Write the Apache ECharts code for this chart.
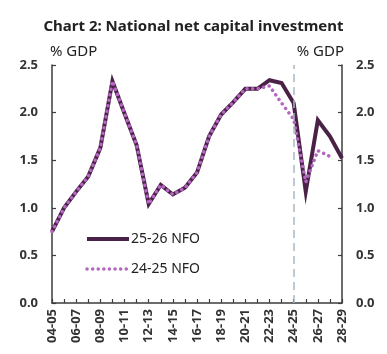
<!DOCTYPE html>
<html>
<head>
<meta charset="utf-8">
<script src="https://cdn.jsdelivr.net/npm/echarts@6/dist/echarts.min.js"></script>
<style>
  html, body { margin: 0; padding: 0; background: #fff; }
  #chart { width: 387px; height: 354px; }
</style>
</head>
<body>
<div id="chart"></div>
<script>
const years = [
  '04-05', '05-06', '06-07', '07-08', '08-09', '09-10', '10-11', '11-12', '12-13',
  '13-14', '14-15', '15-16', '16-17', '17-18', '18-19', '19-20', '20-21', '21-22',
  '22-23', '23-24', '24-25', '25-26', '26-27', '27-28', '28-29'
]
const nfo2526 = [
  0.75, 1.00, 1.17, 1.33, 1.63, 2.33, 1.99, 1.66, 1.04,
  1.24, 1.14, 1.21, 1.37, 1.75, 1.98, 2.11, 2.25, 2.25,
  2.34, 2.31, 2.10, 1.17, 1.92, 1.75, 1.52
]
const nfo2425 = [
  0.75, 1.00, 1.17, 1.33, 1.63, 2.33, 1.99, 1.66, 1.04,
  1.24, 1.14, 1.21, 1.37, 1.75, 1.98, 2.11, 2.25, 2.25,
  2.28, 2.10, 1.93, 1.27, 1.60, 1.54, null
]
const forecastStart = '24-25'
const yTicks = [0, 2.5, 0.5]

const chart = echarts.init(document.getElementById('chart'))

const axisColor = '#3d3d3d'
const textColor = '#333333'

const yAxisBase = (pos) => ({
  type: 'value',
  position: pos,
  min: yTicks[0],
  max: yTicks[1],
  interval: yTicks[2],
  name: '% GDP',
  nameLocation: 'end',
  nameGap: 6,
  nameTextStyle: {
    color: '#222',
    fontSize: 15,
    fontFamily: 'Noto Sans',
    align: pos === 'left' ? 'left' : 'right',
    padding: pos === 'left' ? [0, 0, 0, -2] : [0, -2, 0, 0]
  },
  axisLine: { show: true, lineStyle: { color: axisColor, width: 1.5 } },
  axisTick: { show: true, inside: true, length: 4, lineStyle: { color: axisColor, width: 1.2 } },
  splitLine: { show: false },
  axisLabel: {
    color: textColor,
    fontSize: 13,
    fontWeight: 'bold',
    fontFamily: 'Noto Sans',
    margin: 14,
    formatter: (v) => v.toFixed(1)
  }
})

const option = {
  backgroundColor: '#fff',
  animation: false,
  title: {
    text: 'Chart 2: National net capital investment',
    left: 'center',
    top: 14,
    textStyle: {
      color: '#222',
      fontSize: 15,
      fontWeight: 'bold',
      fontFamily: 'Noto Sans'
    }
  },
  grid: { left: 52, right: 45, top: 65, bottom: 51 },
  legend: {
    orient: 'vertical',
    left: 80,
    top: 227,
    itemWidth: 42,
    itemHeight: 10,
    itemGap: 16,
    itemStyle: { opacity: 0 },
    data: [
      { name: '25-26 NFO', lineStyle: { width: 4 } },
      { name: '24-25 NFO', lineStyle: { width: 3.5 } }
    ],
    textStyle: { color: '#222', fontSize: 14, fontFamily: 'Noto Sans', padding: [0, 0, 0, -3] }
  },
  xAxis: {
    type: 'category',
    data: years,
    boundaryGap: false,
    axisLine: { lineStyle: { color: axisColor, width: 1.5 } },
    axisTick: { show: true, inside: true, length: 4, interval: 0, lineStyle: { color: axisColor, width: 1.2 } },
    axisLabel: {
      interval: 1,
      rotate: 90,
      color: textColor,
      fontSize: 13,
      fontWeight: 'bold',
      fontFamily: 'Noto Sans',
      margin: 6
    }
  },
  yAxis: [yAxisBase('left'), yAxisBase('right')],
  series: [
    {
      name: '25-26 NFO',
      type: 'line',
      data: nfo2526,
      symbol: 'none',
      lineStyle: { color: '#4a2247', width: 4, join: 'miter' },
      itemStyle: { color: '#4a2247' },
      markLine: {
        silent: true,
        symbol: 'none',
        label: { show: false },
        lineStyle: { color: '#a9b9c5', type: [8, 5], width: 1.5 },
        data: [{ xAxis: forecastStart }]
      },
      z: 2
    },
    {
      name: '24-25 NFO',
      type: 'line',
      data: nfo2425,
      symbol: 'none',
      connectNulls: false,
      lineStyle: { color: '#b466c0', width: 3.5, type: [0.1, 5.5], cap: 'round' },
      itemStyle: { color: '#b466c0' },
      z: 3
    }
  ]
}

chart.setOption(option)
</script>
</body>
</html>
